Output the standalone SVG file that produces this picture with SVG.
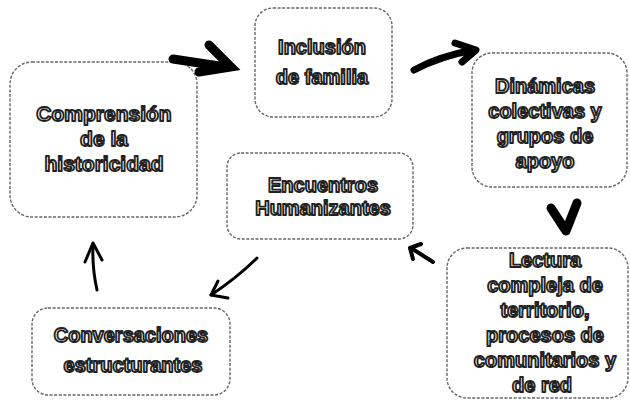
<svg xmlns="http://www.w3.org/2000/svg" width="630" height="400" viewBox="0 0 630 400">
<style>
.box{fill:#ffffff;stroke:#666;stroke-width:1.4;stroke-dasharray:3 1.6;}
.t{font-family:"Liberation Sans","Arial",sans-serif;font-weight:bold;font-size:20px;fill:#ffffff;stroke:#222;stroke-width:1.8;text-anchor:middle;stroke-linejoin:round;}
.a{fill:none;stroke:#000;stroke-linecap:round;stroke-linejoin:round;}
</style>
<rect width="630" height="400" fill="#ffffff"/>
<g id="n-comprension">
<rect class="box" x="10" y="62" width="187" height="155" rx="22"/>
<text class="t" x="104" y="121" style="font-size:21px">Comprensión</text>
<text class="t" x="104" y="146" style="font-size:21px">de la</text>
<text class="t" x="104" y="171" style="font-size:21px">historicidad</text>
</g>
<g id="n-inclusion">
<rect class="box" x="255" y="8" width="137" height="109" rx="18"/>
<text class="t" x="322" y="54">Inclusión</text>
<text class="t" x="322" y="84">de familia</text>
</g>
<g id="n-dinamicas">
<rect class="box" x="472" y="53" width="155" height="134" rx="20"/>
<text class="t" x="545" y="93">Dinámicas</text>
<text class="t" x="545" y="118">colectivas y</text>
<text class="t" x="545" y="143">grupos de</text>
<text class="t" x="545" y="168">apoyo</text>
</g>
<g id="n-encuentros">
<rect class="box" x="227" y="153" width="186" height="86" rx="14"/>
<text class="t" x="323" y="192">Encuentros</text>
<text class="t" x="323" y="215">Humanizantes</text>
</g>
<g id="n-lectura">
<rect class="box" x="447" y="248" width="181" height="150" rx="20"/>
<text class="t" x="545" y="267">Lectura</text>
<text class="t" x="545" y="292">compleja de</text>
<text class="t" x="545" y="317">territorio,</text>
<text class="t" x="545" y="342">procesos de</text>
<text class="t" x="545" y="367">comunitarios y</text>
<text class="t" x="542" y="392">de red</text>
</g>
<g id="n-conversaciones">
<rect class="box" x="32" y="308" width="198" height="87" rx="16"/>
<text class="t" x="131" y="342">Conversaciones</text>
<text class="t" x="133" y="372">estructurantes</text>
</g>
<g id="connectors">
<path class="a" d="M173 59 L226 67" stroke-width="9"/>
<path class="a" d="M209 45 L231 67 L199 72" stroke-width="9" style="stroke-linejoin:miter"/>
<path class="a" d="M414 70 Q440 56 474 50" stroke-width="7"/>
<path class="a" d="M455 43 L476 50 L462 62" stroke-width="7"/>
<path class="a" d="M551 208 L566 231 L577 203" stroke-width="9"/>
<path class="a" d="M433 262 L411 248" stroke-width="4"/>
<path class="a" d="M421 244 L410 248 L413 259" stroke-width="4"/>
<path class="a" d="M257 258 Q238 277 211 295" stroke-width="3"/>
<path class="a" d="M218 281 L211 295 L228 298" stroke-width="3"/>
<path class="a" d="M97 290 Q92 268 93 244" stroke-width="3"/>
<path class="a" d="M85 262 L93 243 L102 260" stroke-width="3"/>
</g>
</svg>
